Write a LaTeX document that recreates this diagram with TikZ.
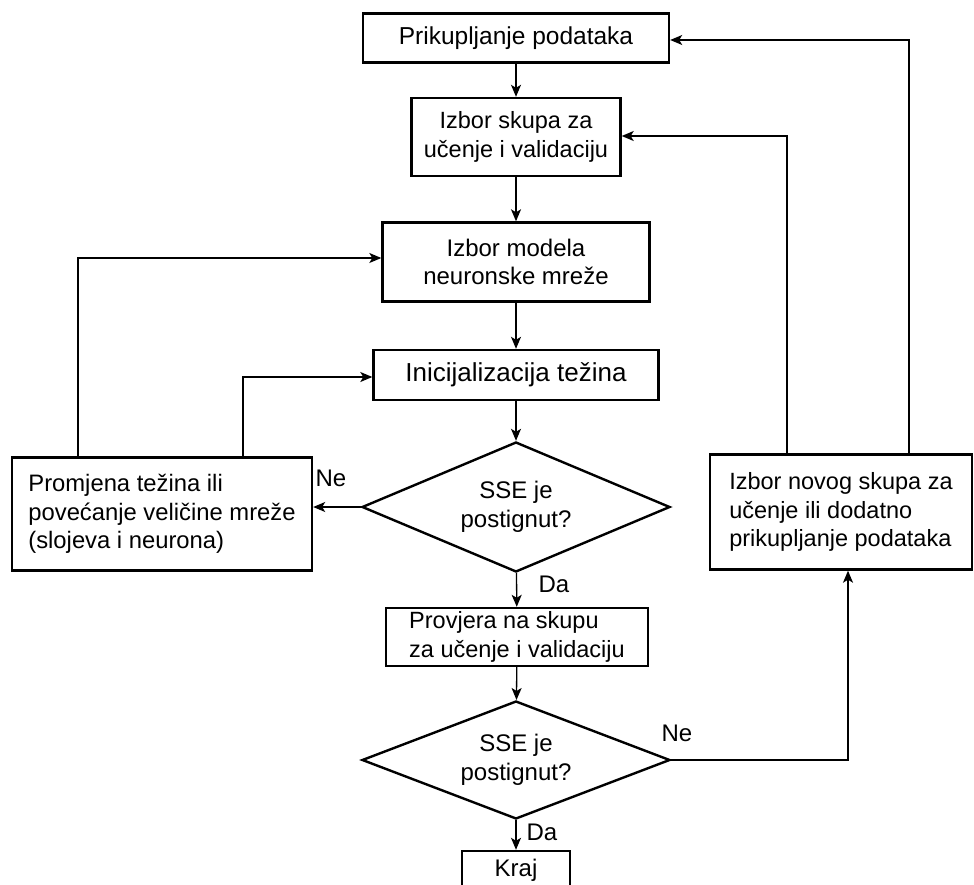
\documentclass[tikz,border=0pt]{standalone}
\usepackage{fontspec}
\setmainfont{Liberation Sans}
\usetikzlibrary{shapes.geometric,arrows.meta}
\newcommand\figfont[1][24]{\fontsize{#1}{28.5}\selectfont}
\begin{document}
\begin{tikzpicture}[x=1pt,y=-1pt,
  box/.style={draw,line width=2.4pt,rectangle,inner sep=0pt,font=\figfont,align=center},
  lbox/.style={box,align=left},
  dec/.style={draw,line width=2.4pt,shape=diamond,shape aspect=2.4,inner sep=0pt,font=\figfont,align=center,minimum width=308pt},
  lab/.style={font=\figfont,inner sep=0pt},
  arr/.style={-{Stealth[length=12pt,width=10pt,inset=3pt]},line width=1.3pt},
  ln/.style={line width=1.3pt}]
\useasboundingbox[fill=white] (0,0) rectangle (974,885);
% nodes
\node[box,font={\figfont[24.5]},minimum width=306pt,minimum height=49pt] (b1) at (516,38) {Prikupljanje podataka};
\node[box,font={\figfont[23.5]},minimum width=209pt,minimum height=78pt] (b2) at (516,137) {Izbor skupa za\\učenje i validaciju};
\node[box,minimum width=267pt,minimum height=79pt] (b3) at (516,262) {Izbor modela\\neuronske mreže};
\node[box,font={\figfont[26]},minimum width=285pt,minimum height=50pt] (b4) at (516,375) {Inicijalizacija težina};
\node[dec,minimum height=130pt] (d1) at (516,507) {SSE je\\postignut?};
\node[lbox,font={\figfont[23.8]},minimum width=300pt,minimum height=113pt] (b5) at (162,514) {Promjena težina ili\\povećanje veličine mreže\\(slojeva i neurona)};
\node[lbox,font={\figfont[23.5]},minimum width=262pt,minimum height=115pt] (b7) at (841,512) {Izbor novog skupa za\\učenje ili dodatno\\prikupljanje podataka};
\node[lbox,font={\figfont[23.5]},minimum width=262pt,minimum height=58pt] (b6) at (517,637) {Provjera na skupu\\za učenje i validaciju};
\node[dec,minimum height=118pt] (d2) at (516,760) {SSE je\\postignut?};
\node[box,minimum width=108pt,minimum height=38pt] (kraj) at (516,870) {Kraj};
% labels
\node[lab] (ne1) at (331,478) {Ne};
\node[lab] (da1) at (554,584) {Da};
\node[lab] (ne2) at (677,733) {Ne};
\node[lab] (da2) at (542,832) {Da};
% bend points
\coordinate (l1) at (78,258);
\coordinate (l2) at (243,377);
\coordinate (r1) at (787,136);
\coordinate (r2) at (909,40);
\coordinate (r3) at (848,760);
% connectors
\draw[arr] (b1) -- (b2);
\draw[arr] (b2) -- (b3);
\draw[arr] (b3) -- (b4);
\draw[arr] (b4) -- (d1);
\draw[arr] (d1.west) -- (b5.east |- d1.west);
\draw[arr] (d1) -- (b6);
\draw[arr] (b6) -- (d2);
\draw[arr] (d2) -- (kraj);
\draw[arr] (b5.north -| l1) -- (l1) -- (l1 -| b3.west);
\draw[arr] (b5.north -| l2) -- (l2) -- (l2 -| b4.west);
\draw[arr] (b7.north -| r1) -- (r1) -- (r1 -| b2.east);
\draw[arr] (b7.north -| r2) -- (r2) -- (r2 -| b1.east);
\draw[arr] (d2.east) -- (r3) -- (r3 |- b7.south);
\end{tikzpicture}
\end{document}
